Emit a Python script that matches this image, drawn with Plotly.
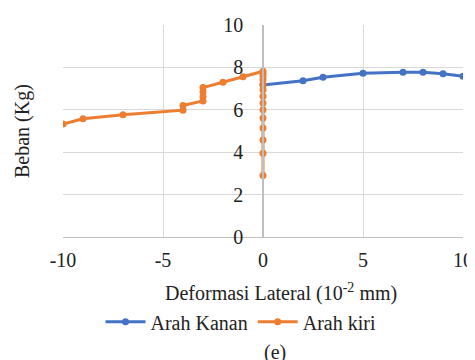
import plotly.graph_objects as go

# Arah Kanan (blue)
kanan_x = [0, 2, 3, 5, 7, 8, 9, 10]
kanan_y = [7.17, 7.37, 7.53, 7.72, 7.77, 7.77, 7.7, 7.58]

# Arah kiri (orange)
kiri_x = [0, 0, 0, 0, 0, 0, 0, 0, 0, 0, 0, 0, 0, 0,
          -1, -2, -3, -3, -3, -3, -4, -4, -7, -9, -10]
kiri_y = [2.9, 3.95, 4.58, 5.14, 5.61, 6.0, 6.32, 6.64, 6.95, 7.2, 7.43, 7.6, 7.72, 7.82,
          7.56, 7.3, 7.05, 6.85, 6.62, 6.42, 6.2, 5.98, 5.77, 5.58, 5.33]

x_ticks = [-10, -5, 0, 5, 10]
y_ticks = [0, 2, 4, 6, 8, 10]

FONT = "Liberation Serif, Times New Roman, serif"
BLUE = "#4472C4"
ORANGE = "#ED7D31"

fig = go.Figure()
fig.add_trace(go.Scatter(x=kanan_x, y=kanan_y, mode="lines+markers", name="Arah Kanan",
                         line=dict(color=BLUE, width=3), marker=dict(color=BLUE, size=7)))
fig.add_trace(go.Scatter(x=kiri_x, y=kiri_y, mode="lines+markers", name="Arah kiri",
                         line=dict(color=ORANGE, width=3), marker=dict(color=ORANGE, size=7)))

# the page body has an 8px margin, so the figure is sized/offset to compensate
fig.update_layout(
    width=467, height=352,
    margin=dict(l=55, r=12, t=17, b=123),
    paper_bgcolor="white", plot_bgcolor="white",
    font=dict(family=FONT, size=20, color="#222"),
    showlegend=True,
    legend=dict(orientation="h", x=0.445, xanchor="center", y=-0.40, yanchor="middle",
                font=dict(size=20), itemwidth=40, tracegroupgap=0),
    xaxis=dict(range=[-10, 10], tickvals=x_ticks, ticktext=[str(v) for v in x_ticks],
               showgrid=True, gridcolor="#d9d9d9", gridwidth=1, zeroline=False,
               showline=True, linecolor="#bfbfbf", linewidth=1, ticks="",
               automargin=False,
               ticklabelstandoff=5, tickfont=dict(size=20)),
    yaxis=dict(range=[0, 10], tickvals=y_ticks, ticktext=[str(v) for v in y_ticks],
               showgrid=True, gridcolor="#d9d9d9", gridwidth=1, zeroline=False,
               anchor="free", position=0.5, automargin=False,
               showline=True, linecolor="#bfbfbf", linewidth=1.5, ticks="",
               ticklabelstandoff=15, tickfont=dict(size=20)),
    annotations=[
        dict(text="Deformasi Lateral (10<sup>-2</sup> mm)", xref="paper", yref="paper",
             x=0.545, y=-0.26, xanchor="center", yanchor="middle", showarrow=False,
             font=dict(size=20)),
        dict(text="Beban (Kg)", xref="paper", yref="paper", x=-0.1025, y=0.5,
             xanchor="center", yanchor="middle", textangle=-90, showarrow=False,
             font=dict(size=20)),
        dict(text="(e)", xref="paper", yref="paper", x=0.53, y=-0.545,
             xanchor="center", yanchor="middle", showarrow=False, font=dict(size=20)),
    ],
)

fig.write_html("out.html")
